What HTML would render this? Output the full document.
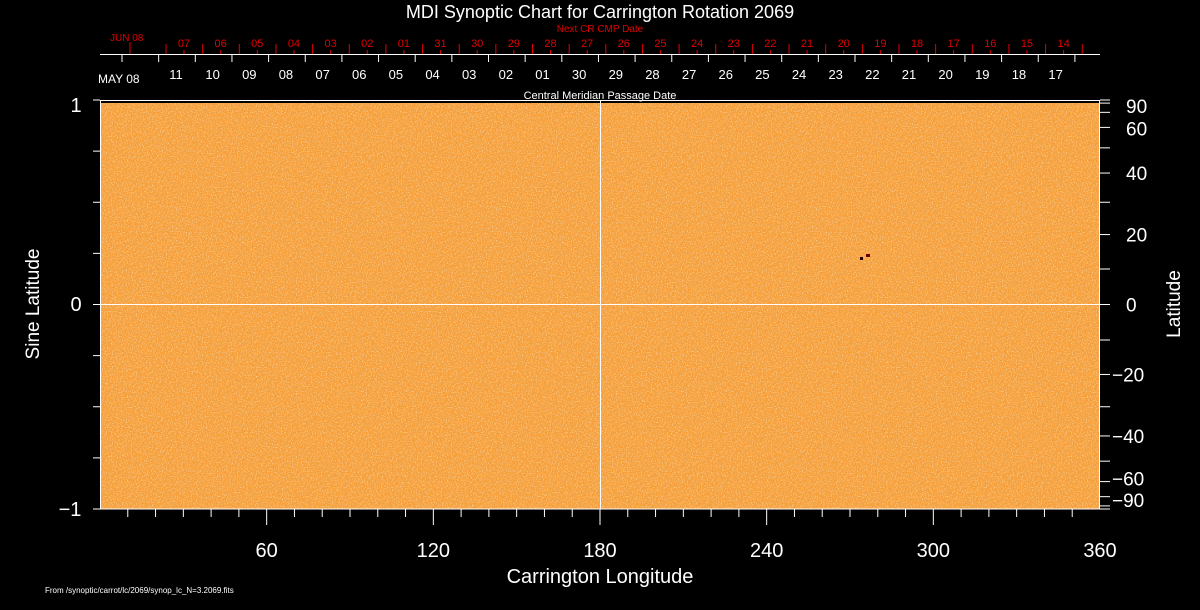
<!DOCTYPE html>
<html><head><meta charset="utf-8"><style>
html,body{margin:0;padding:0;background:#000;width:1200px;height:610px;overflow:hidden}
svg text{font-family:"Liberation Sans",sans-serif}
</style></head><body>
<svg id="s" width="1200" height="610" xmlns="http://www.w3.org/2000/svg">
<defs>
<filter id="n" x="0" y="0" width="100%" height="100%">
<feTurbulence type="fractalNoise" baseFrequency="0.8" numOctaves="2" seed="3"/>
<feColorMatrix type="matrix" values="0 0 0 0 1  0 0 0 0 0.92  0 0 0 0 0.8  2.2 0 0 0 -1.05"/>
</filter>
<filter id="d" x="0" y="0" width="100%" height="100%">
<feTurbulence type="fractalNoise" baseFrequency="0.7" numOctaves="2" seed="9"/>
<feColorMatrix type="matrix" values="0 0 0 0 0.93  0 0 0 0 0.5  0 0 0 0 0.05  2.2 0 0 0 -1.05"/>
</filter>
</defs>
<rect x="100" y="100" width="1000" height="409" fill="#f59d3a"/>
<rect x="100" y="100" width="1000" height="409" filter="url(#d)" opacity="0.6"/>
<rect x="100" y="100" width="1000" height="409" filter="url(#n)" opacity="0.75"/>
<rect x="100" y="100" width="1000" height="3" fill="#000"/>
<rect x="860" y="257" width="3" height="3" fill="#200"/>
<rect x="866" y="254" width="4" height="3" fill="#600"/>
<g stroke="#fff" stroke-width="1" fill="none">
<rect x="100.5" y="100.5" width="999" height="408.5"/>
<line x1="600.5" y1="100" x2="600.5" y2="509"/>
<line x1="100" y1="304.5" x2="1100" y2="304.5"/>
<line x1="100" y1="54.5" x2="1100" y2="54.5"/>
</g>
<g id="t" stroke="#fff"></g>
<g id="r" stroke="#e00000"></g>
<g id="lab" fill="#fff"></g>
<g id="rlab" fill="#e00000" font-size="11"></g>
<text x="600" y="18" fill="#fff" font-size="18" text-anchor="middle">MDI Synoptic Chart for Carrington Rotation 2069</text>
<text x="600" y="32" fill="#e00000" font-size="10" text-anchor="middle">Next CR CMP Date</text>
<text x="110" y="41" fill="#e00000" font-size="10">JUN 08</text>
<text x="98" y="83" fill="#fff" font-size="12">MAY 08</text>
<text x="600" y="99" fill="#fff" font-size="11" text-anchor="middle">Central Meridian Passage Date</text>
<text x="76" y="311" fill="#fff" font-size="20" text-anchor="middle">0</text>
<text x="76" y="112" fill="#fff" font-size="20" text-anchor="middle">1</text>
<text x="70" y="516" fill="#fff" font-size="20" text-anchor="middle">−1</text>
<text transform="translate(39,304) rotate(-90)" fill="#fff" font-size="19" text-anchor="middle">Sine Latitude</text>
<text transform="translate(1180,304) rotate(-90)" fill="#fff" font-size="19" text-anchor="middle">Latitude</text>
<text x="600" y="583" fill="#fff" font-size="20" text-anchor="middle">Carrington Longitude</text>
<text x="45" y="593" fill="#fff" font-size="8">From /synoptic/carrot/lc/2069/synop_lc_N=3.2069.fits</text>
</svg>
<script>
var NS="http://www.w3.org/2000/svg";
function el(g,tag,a,txt){var e=document.createElementNS(NS,tag);for(var k in a)e.setAttribute(k,a[k]);if(txt!=null)e.textContent=txt;document.getElementById(g).appendChild(e);}
for(var d=10;d<360;d+=10){var x=100+d*1000/360;var maj=d%60==0;el('t','line',{x1:x,y1:509,x2:x,y2:maj?525:517});}
[60,120,180,240,300,360].forEach(function(d){el('lab','text',{x:100+d*1000/360,y:557,'font-size':20,'text-anchor':'middle'},d);});
for(var v=-0.75;v<=0.75;v+=0.25){var y=304.5-v*204.5;el('t','line',{x1:93,y1:y,x2:100,y2:y});}
[1,-1].forEach(function(v){var y=304.5-v*204.5;el('t','line',{x1:93,y1:y,x2:100,y2:y});});
for(var l=-90;l<=90;l+=10){var y=304.5-Math.sin(l*Math.PI/180)*204.5;el('t','line',{x1:1100,y1:y,x2:1110,y2:y});}
[[90,'90'],[60,'60'],[40,'40'],[20,'20'],[0,'0'],[-20,'−20'],[-40,'−40'],[-60,'−60'],[-90,'−90']].forEach(function(p){var y=304.5-Math.sin(p[0]*Math.PI/180)*204.5;var yy=y+7;if(p[0]==90)yy=y+13;if(p[0]==60)yy=y+8;if(p[0]==-90)yy=y-2;if(p[0]==-60)yy=y+4;el('lab','text',{x:p[0]<0?1112:1126,y:yy,'font-size':19},p[1]);});
var sp=36.65;
for(var i=0;i<27;i++){var x=122+i*sp;if(x>1099)break;el('t','line',{x1:x,y1:55,x2:x,y2:62});}
var wl=['11','10','09','08','07','06','05','04','03','02','01','30','29','28','27','26','25','24','23','22','21','20','19','18','17'];
wl.forEach(function(s,i){el('lab','text',{x:176+i*sp,y:79,'font-size':13,'text-anchor':'middle'},s);});
el('r','line',{x1:130,y1:42,x2:130,y2:54});
for(var i=0;i<26;i++){var x=166+i*sp;if(x>1100)break;el('r','line',{x1:x,y1:44,x2:x,y2:54});}
var rl=['07','06','05','04','03','02','01','31','30','29','28','27','26','25','24','23','22','21','20','19','18','17','16','15','14'];
rl.forEach(function(s,i){var x=184+i*sp;el('rlab','text',{x:x,y:47,'text-anchor':'middle'},s);el('r','line',{x1:x,y1:50,x2:x,y2:54});});
</script>
</body></html>
